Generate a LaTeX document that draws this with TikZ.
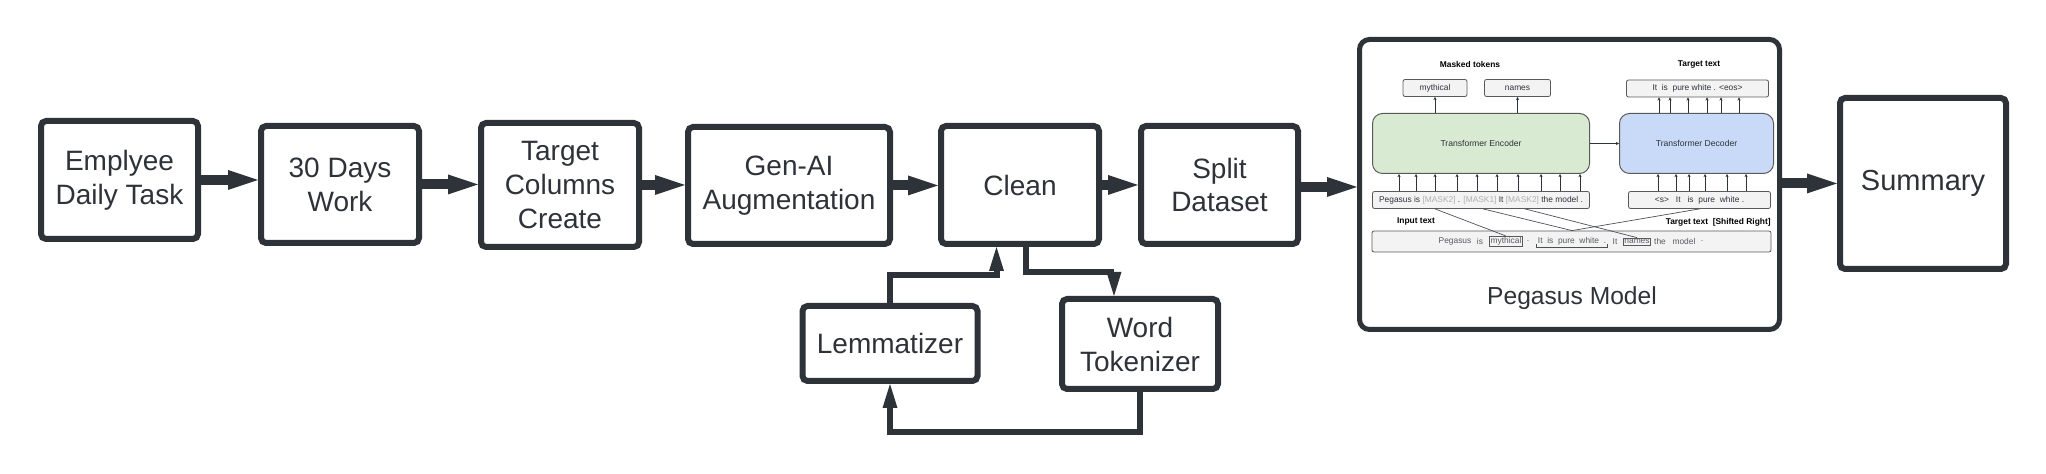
\documentclass[tikz,border=0pt]{standalone}
\usepackage{fontspec}
\setmainfont{Liberation Sans}
\usetikzlibrary{arrows.meta}

\definecolor{ink}{RGB}{46,50,57}
\definecolor{encfill}{RGB}{217,234,211}
\definecolor{decfill}{RGB}{201,218,248}
\definecolor{tokfill}{RGB}{243,243,243}
\definecolor{tokline}{RGB}{90,90,90}
\definecolor{maskgray}{RGB}{175,175,175}

\tikzset{
  stage/.style={draw=ink, line width=3pt, rounded corners=2.5pt, fill=white, align=center,
    text=ink, inner sep=2pt, font=\fontsize{14}{17}\selectfont},
  flow/.style={draw=ink, line width=5pt, -{Triangle[width=10pt,length=15pt,line width=0pt]}},
  loopline/.style={draw=ink, line width=3pt, -{Triangle[width=7.5pt,length=12pt,line width=0pt]}},
  tok/.style={draw=tokline, fill=tokfill, line width=0.4pt, rounded corners=1pt, inner sep=0.5pt,
    text=ink, font=\fontsize{4.2}{5}\selectfont},
  word/.style={inner sep=0.6pt, text=ink!80, line width=0.35pt, font=\fontsize{4.2}{5}\selectfont},
  lbl/.style={text=black, inner sep=0pt, font=\bfseries\fontsize{4.2}{5}\selectfont},
  block/.style={draw=tokline, line width=0.5pt, rounded corners=5pt, text=ink,
    minimum height=30pt, font=\fontsize{4.3}{5}\selectfont},
  tip/.style={draw=ink, line width=0.35pt, -{Stealth[length=1.6pt,width=1.6pt]}},
  cross/.style={draw=ink!85, line width=0.35pt}
}

\begin{document}
\begin{tikzpicture}[x=0.5pt,y=-0.5pt]
\useasboundingbox (0,0) rectangle (2046,474);

\node[stage, minimum width=78.5pt, minimum height=59pt] (emp) at (119.5,180) {Emplyee\\Daily Task};
\node[stage, minimum width=79pt, minimum height=58.5pt] (days) at (340,184.5) {30 Days\\Work};
\node[stage, minimum width=79pt, minimum height=62pt] (tcc) at (560,185) {Target\\Columns\\Create};
\node[stage, minimum width=101pt, minimum height=58.5pt] (gen) at (789,185.5) {Gen-AI\\Augmentation};
\node[stage, minimum width=79pt, minimum height=59pt] (clean) at (1020,185) {Clean};
\node[stage, minimum width=78.5pt, minimum height=59pt] (split) at (1219.5,185) {Split\\Dataset};
\node[stage, minimum width=87.5pt, minimum height=37.5pt] (lem) at (890,343.5) {Lemmatizer};
\node[stage, minimum width=78pt, minimum height=45pt] (wtok) at (1140,344) {Word\\Tokenizer};
\node[stage, minimum width=83pt, minimum height=85.5pt, font=\fontsize{14.5}{17}\selectfont]
  (sum) at (1923,183.5) {Summary};

\node[draw=ink, line width=2.5pt, rounded corners=5pt, minimum width=210pt, minimum height=145pt]
  (peg) at (1569.5,184.5) {};
\node[text=ink, font=\fontsize{12.3}{15}\selectfont] (pegl) at (1572,298) {Pegasus Model};

\draw[flow] (emp.east) -- (emp.east -| days.west);
\draw[flow] (days.east) -- (days.east -| tcc.west);
\draw[flow] (tcc.east) -- (tcc.east -| gen.west);
\draw[flow] (gen.east) -- (gen.east -| clean.west);
\draw[flow] (clean.east) -- (clean.east -| split.west);
\draw[flow] ([yshift=-1pt]split.east) -- ([yshift=-1pt]split.east -| peg.west);
\draw[flow] (sum.west -| peg.east) -- (sum.west);

\draw[loopline] (lem.north) |- ([xshift=-11.75pt,yshift=-14pt]clean.south) -- ([xshift=-11.75pt]clean.south);
\draw[loopline] ([xshift=2.8pt]clean.south) |- ([xshift=-13pt,yshift=12pt]wtok.north) -- ([xshift=-13pt]wtok.north);
\draw[loopline] (wtok.south) |- ([yshift=-24pt]lem.south) -- (lem.south);

% pegasus model inside
\node[lbl] (mtl) at (1470,65) {Masked tokens};
\node[lbl] (ttl) at (1699,65) {Target text};
\node[tok, minimum width=32pt, minimum height=8.5pt] (myth) at (1435,88) {mythical};
\node[tok, minimum width=33pt, minimum height=8.5pt] (names) at (1517.5,88) {names};
\node[tok, minimum width=71pt, minimum height=8.5pt] (tgt) at (1697.5,88.5) {It\ \ is\ \ pure white . <eos>};
\node[block, fill=encfill, minimum width=108.5pt] (enc) at (1481,143.5) {Transformer Encoder};
\node[block, fill=decfill, minimum width=77pt] (dec) at (1696.5,143.5) {Transformer Decoder};
\node[tok, minimum width=108.5pt, minimum height=8.5pt] (inp) at (1481,200)
  {Pegasus is {\color{maskgray}[MASK2]} . {\color{maskgray}[MASK1]} It {\color{maskgray}[MASK2]} the model .};
\node[tok, minimum width=71pt, minimum height=8.5pt] (dinp) at (1699.5,200) {<s>\ \ \ It\ \ \ is\ \ pure\ \ white .};
\node[lbl] (itl) at (1416,221) {Input text};
\node[lbl, anchor=east] (tsl) at (1771,222) {Target text\ \ [Shifted Right]};
\node[tok, minimum width=199.5pt, minimum height=10.5pt] (full) at (1571.5,241.5) {};
\node[word] (w1) at (1455,241.5) {Pegasus};
\node[word] (w2) at (1480,241.5) {is};
\node[word, draw=tokline] (wmyth) at (1506,241.5) {mythical};
\node[word] (w3) at (1528,241.5) {.};
\node[word] (wsent) at (1572,241.5) {It\ \ is\ \ pure\ \ white\ \ .};
\node[word] (w4) at (1615,241.5) {It};
\node[word, draw=tokline] (wnames) at (1637,241.5) {names};
\node[word] (w5) at (1660,241.5) {the};
\node[word] (w6) at (1684,241.5) {model};
\node[word] (w7) at (1702,241.5) {.};
\draw[cross] ([yshift=1.5pt]wsent.south west) -- (wsent.south west) -- (wsent.south east) -- ([yshift=1.5pt]wsent.south east);

\draw[tip] (myth.south |- enc.north) -- (myth.south);
\draw[tip] (names.south |- enc.north) -- (names.south);
\draw[tip] (enc.east) -- (dec.west);
\foreach \x in {1659,1670,1688,1707,1721,1739}
  \draw[tip] (\x,0 |- dec.north) -- (\x,0 |- tgt.south);
\foreach \x in {1399,1416,1435,1457,1477,1497,1518,1541,1560,1580}
  \draw[tip] (\x,0 |- inp.north) -- (\x,0 |- enc.south);
\foreach \x in {1658,1676,1689,1705,1727,1746}
  \draw[tip] (\x,0 |- dinp.north) -- (\x,0 |- dec.south);

\draw[cross] ([xshift=-23pt]inp.south) -- (wmyth.north);
\draw[cross] ([xshift=1pt]inp.south) -- (wsent.north |- full.north);
\draw[cross] ([xshift=22pt]inp.south) -- (wnames.north);
\draw[cross] (dinp.south) -- (wsent.north |- full.north);

\end{tikzpicture}
\end{document}
